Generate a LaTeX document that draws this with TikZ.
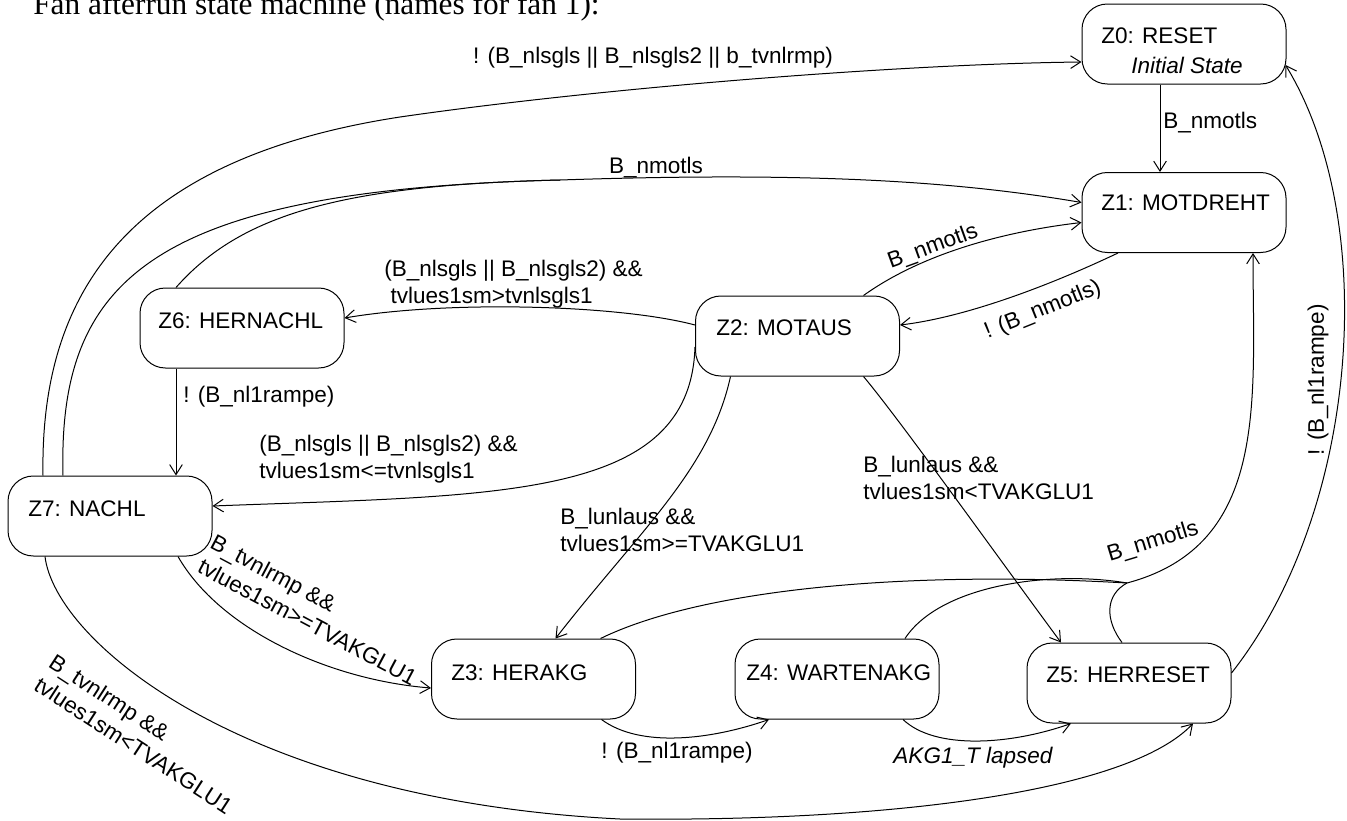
\documentclass[tikz,border=0pt]{standalone}
\usepackage{fontspec}
\setmainfont{Liberation Sans}
\newfontfamily\titlefont{Liberation Serif}
\usetikzlibrary{arrows.meta,calc}
\newcommand\labfont{\fontsize{16.9}{20.25}\selectfont}
\tikzset{
  state/.style={draw, line width=0.75pt, rounded corners=19pt, minimum width=153pt, minimum height=60pt, inner sep=0pt},
  stxt/.style={anchor=base west, inner sep=0pt, font=\labfont},
  lbl/.style={inner sep=0pt, font=\labfont},
  edge/.style={draw, line width=0.75pt, -{Straight Barb[length=7.5pt,width=9.5pt]}},
  link/.style={draw, line width=0.75pt},
}
\begin{document}
\begin{tikzpicture}[x=0.75pt,y=-0.75pt]
\useasboundingbox (0,0) rectangle (1347,821);
\node[anchor=base west, inner sep=0pt, font=\titlefont\fontsize{23.5}{28}\selectfont] (title) at (33,15) {Fan afterrun state machine (names for fan 1):};

% states
\node[state] (z0) at (1184,44) {};
\node[state] (z1) at (1184,212.5) {};
\node[state] (z2) at (797.5,336) {};
\node[state] (z6) at (242,328) {};
\node[state] (z7) at (110,516) {};
\node[state] (z3) at (533.5,679) {};
\node[state] (z4) at (837,679) {};
\node[state] (z5) at (1129,683) {};

\node[stxt] (z0a) at (1101,43) {Z0: RESET};
\node[stxt] (z0b) at (1131,73) {\itshape Initial State};
\node[stxt] (z1a) at (1101,210) {Z1: MOTDREHT};
\node[stxt] (z2a) at (716,335) {Z2: MOTAUS};
\node[stxt] (z6a) at (158,328) {Z6: HERNACHL};
\node[stxt] (z7a) at (28,516) {Z7: NACHL};
\node[stxt] (z3a) at (451,680) {Z3: HERAKG};
\node[stxt] (z4a) at (746,680) {Z4: WARTENAKG};
\node[stxt] (z5a) at (1046,682) {Z5: HERRESET};

\coordinate (m1) at (560,180);
\coordinate (m2) at (1127,583);

% edges
\draw[edge] ($(z7.north)+(-67,0)$) .. controls (40,300) and (120,160) .. (400,117) .. controls (600,88) and (900,64) .. ($(z0.west)+(0,18)$);
\draw[link] ($(z7.north)+(-47,0)$) .. controls (58,280) and (150,190) .. (m1);
\draw[link] ($(z6.north)+(-66,0)$) .. controls (240,215) and (340,185) .. (m1);
\draw[edge] (m1) .. controls (800,172) and (950,180) .. ($(z1.west)+(0,-10)$);
\draw[edge] ($(z0.south)+(-24,0)$) -- ($(z1.north)+(-24,0)$);
\draw[edge] ($(z2.north)+(66,0)$) .. controls (920,255) and (1000,232) .. ($(z1.west)+(0,10)$);
\draw[edge] ($(z1.south)+(-66,0)$) .. controls (1040,290) and (960,318) .. ($(z2.east)+(0,-11)$);
\draw[edge] ($(z2.west)+(0,-11)$) .. controls (620,305) and (450,300) .. ($(z6.east)+(0,-10)$);
\draw[edge] ($(z6.south)+(-66,0)$) -- ($(z7.north)+(66,0)$);
\draw[edge] ($(z2.west)+(0,11)$) .. controls (690,500) and (500,495) .. ($(z7.east)+(0,-10)$);
\draw[edge] ($(z2.south)+(-67,0)$) .. controls (710,470) and (640,530) .. ($(z3.north)+(22,0)$);
\draw[edge] ($(z2.south)+(66,0)$) .. controls (900,420) and (1000,560) .. ($(z5.north)+(-68,0)$);
\draw[edge] ($(z7.south)+(68,0)$) .. controls (220,630) and (330,680) .. ($(z3.west)+(0,9)$);
\draw[edge] ($(z7.south)+(-65,0)$) .. controls (55,640) and (240,800) .. (620,819) .. controls (900,822) and (1130,790) .. ($(z5.south)+(64,0)$);
\draw[edge] ($(z3.south)+(68,0)$) .. controls (640,748) and (710,740) .. ($(z4.south)+(-68,0)$);
\draw[edge] ($(z4.south)+(66,0)$) .. controls (935,750) and (1010,745) .. ($(z5.south)+(-58,0)$);
\draw[link] ($(z3.north)+(67,0)$) .. controls (700,590) and (900,570) .. (m2);
\draw[link] ($(z4.north)+(68,0)$) .. controls (940,585) and (1050,570) .. (m2);
\draw[link] ($(z5.north)+(-7,0)$) .. controls (1105,620) and (1105,595) .. (m2);
\draw[edge] (m2) .. controls (1270,545) and (1253,400) .. ($(z1.south)+(69,0)$);
\draw[edge] ($(z5.east)+(0,-10)$) .. controls (1360,510) and (1380,220) .. ($(z0.east)+(-1,21)$);

% labels
\node[lbl] (l70) at (653,58) {! (B\_nlsgls || B\_nlsgls2 || b\_tvnlrmp)};
\node[lbl] (l71) at (656,168) {B\_nmotls};
\node[lbl, anchor=west] (l01) at (1163,123) {B\_nmotls};
\node[lbl, rotate=20] (l21) at (933,247) {B\_nmotls};
\node[lbl, rotate=22] (l12) at (1043,310) {! (B\_nmotls)};
\node[lbl, align=left, anchor=west] (l26) at (384,284) {(B\_nlsgls || B\_nlsgls2) \&\&\\\hspace*{0.278em}tvlues1sm>tvnlsgls1};
\node[lbl, anchor=west] (l67) at (183,397) {! (B\_nl1rampe)};
\node[lbl, align=left, anchor=west] (l27) at (259,459) {(B\_nlsgls || B\_nlsgls2) \&\&\\tvlues1sm<=tvnlsgls1};
\node[lbl, align=left, anchor=west] (l23) at (560,530) {B\_lunlaus \&\&\\tvlues1sm>=TVAKGLU1};
\node[lbl, align=left, anchor=west] (l25) at (863,478) {B\_lunlaus \&\&\\tvlues1sm<TVAKGLU1};
\node[lbl, align=left, rotate=-28] (l73) at (314,610) {B\_tvnlrmp \&\&\\tvlues1sm>=TVAKGLU1};
\node[lbl, align=left, rotate=-33] (l75) at (141,734) {B\_tvnlrmp \&\&\\tvlues1sm<TVAKGLU1};
\node[lbl] (l34) at (677,753) {! (B\_nl1rampe)};
\node[lbl, font=\labfont\itshape] (l45) at (973,758) {AKG1\_T lapsed};
\node[lbl, rotate=17] (l51) at (1153,542) {B\_nmotls};
\node[lbl, rotate=90] (l50) at (1318,380) {! (B\_nl1rampe)};
\end{tikzpicture}
\end{document}
